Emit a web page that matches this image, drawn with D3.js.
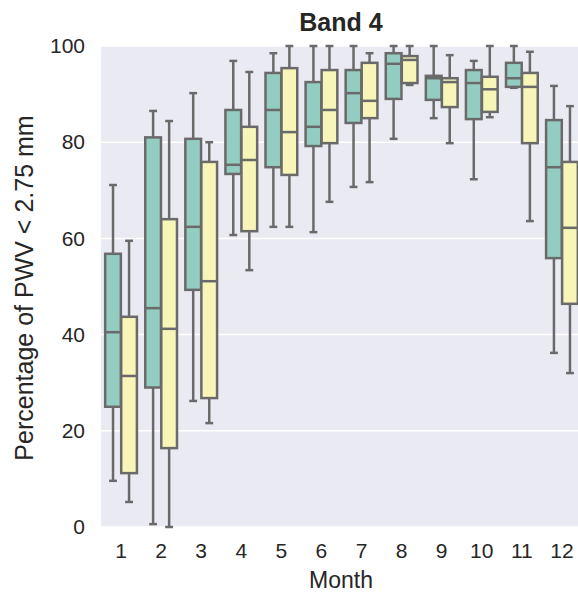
<!DOCTYPE html>
<html>
<head>
<meta charset="utf-8">
<script src="https://cdn.jsdelivr.net/npm/d3@7"></script>
<style>
  body { margin: 0; background: #fff; }
  svg { display: block; font-family: "Liberation Sans", Arial, sans-serif; }
</style>
</head>
<body>
<div id="chart"></div>
<script>
const months = ['1','2','3','4','5','6','7','8','9','10','11','12'];
const yTicks = [0, 20, 40, 60, 80, 100];

// first hue (teal)
const tealLow  = [9.6, 0.6, 26.2, 60.7, 62.4, 61.3, 70.7, 80.7, 85.0, 72.3, 91.3, 36.2];
const tealQ1   = [25.0, 29.0, 49.3, 73.4, 74.8, 79.2, 84.0, 89.0, 88.8, 84.8, 91.5, 55.9];
const tealMed  = [40.5, 45.5, 62.4, 75.3, 86.7, 83.2, 90.2, 96.3, 93.3, 92.3, 93.3, 74.8];
const tealQ3   = [56.8, 81.0, 80.7, 86.7, 94.4, 92.5, 95.0, 98.5, 93.8, 95.0, 96.5, 84.6];
const tealHigh = [71.1, 86.5, 90.2, 96.9, 98.5, 100, 100, 100, 100, 96.9, 100, 91.7];

// second hue (yellow)
const yellowLow  = [5.2, 0.0, 21.6, 53.4, 62.4, 67.6, 71.7, 91.9, 79.8, 85.2, 63.6, 32.0];
const yellowQ1   = [11.2, 16.4, 26.8, 61.5, 73.2, 79.8, 85.0, 92.3, 87.3, 86.3, 79.8, 46.4];
const yellowMed  = [31.4, 41.2, 51.1, 76.3, 82.1, 86.7, 88.6, 97.1, 92.5, 91.0, 91.5, 62.2];
const yellowQ3   = [43.7, 64.0, 75.9, 83.2, 95.4, 95.0, 96.5, 97.9, 93.3, 93.6, 94.4, 75.9];
const yellowHigh = [59.5, 84.4, 80.0, 94.6, 100, 100, 98.5, 100, 98.1, 100, 98.8, 87.5];

const hues = ['teal', 'yellow'];
const hueColor = { teal: '#93cdc1', yellow: '#f7f5b8' };
const edge = '#6a6a6a';
const textColor = '#262626';

function buildRows(low, q1, med, q3, high, hue) {
  return months.map((m, i) => ({ month: m, hue, low: low[i], q1: q1[i], med: med[i], q3: q3[i], high: high[i] }));
}
const rows = buildRows(tealLow, tealQ1, tealMed, tealQ3, tealHigh, 'teal')
  .concat(buildRows(yellowLow, yellowQ1, yellowMed, yellowQ3, yellowHigh, 'yellow'));

const W = 578, H = 593;
const margin = { left: 101, top: 46, right: -4, bottom: 66 };
const pw = W - margin.left - margin.right;
const ph = H - margin.top - margin.bottom;

const svg = d3.select('#chart').append('svg')
  .attr('width', W)
  .attr('height', H);

const g = svg.append('g').attr('transform', `translate(${margin.left},${margin.top})`);

const x = d3.scaleBand().domain(months).range([0, pw]).padding(0);
const xh = d3.scaleBand().domain(hues).range([0, x.bandwidth() * 0.8]).padding(0);
const y = d3.scaleLinear().domain([0, 100]).range([ph, 0]);

g.append('rect')
  .attr('width', pw)
  .attr('height', ph)
  .attr('fill', '#eaeaf2');

g.append('g')
  .selectAll('line')
  .data(yTicks)
  .enter().append('line')
  .attr('x1', 0).attr('x2', pw)
  .attr('y1', d => y(d)).attr('y2', d => y(d))
  .attr('stroke', '#fff')
  .attr('stroke-width', 1.5);

const yAxis = g.append('g')
  .call(d3.axisLeft(y).tickValues(yTicks).tickSize(0).tickPadding(16));
const xAxis = g.append('g')
  .attr('transform', `translate(0,${ph})`)
  .call(d3.axisBottom(x).tickSize(0).tickPadding(16));
[yAxis, xAxis].forEach(a => {
  a.select('.domain').remove();
  a.selectAll('text').attr('font-size', 21).attr('fill', textColor)
    .attr('font-family', '"Liberation Sans", Arial, sans-serif');
});

const boxW = xh.bandwidth() * 0.98;
const capW = boxW * 0.5;

const boxes = g.append('g').selectAll('g.box')
  .data(rows)
  .enter().append('g')
  .attr('class', 'box')
  .attr('transform', d => {
    const cx = x(d.month) + x.bandwidth() * 0.1 + xh(d.hue) + xh.bandwidth() / 2;
    return `translate(${cx},0)`;
  });

// whiskers
boxes.append('line')
  .attr('x1', 0).attr('x2', 0)
  .attr('y1', d => y(d.high)).attr('y2', d => y(d.q3))
  .attr('stroke', edge).attr('stroke-width', 2.5);
boxes.append('line')
  .attr('x1', 0).attr('x2', 0)
  .attr('y1', d => y(d.q1)).attr('y2', d => y(d.low))
  .attr('stroke', edge).attr('stroke-width', 2.5);
// caps
boxes.append('line')
  .attr('x1', -capW / 2).attr('x2', capW / 2)
  .attr('y1', d => y(d.high)).attr('y2', d => y(d.high))
  .attr('stroke', edge).attr('stroke-width', 2.5);
boxes.append('line')
  .attr('x1', -capW / 2).attr('x2', capW / 2)
  .attr('y1', d => y(d.low)).attr('y2', d => y(d.low))
  .attr('stroke', edge).attr('stroke-width', 2.5);
// box
boxes.append('rect')
  .attr('x', -boxW / 2)
  .attr('width', boxW)
  .attr('y', d => y(d.q3))
  .attr('height', d => y(d.q1) - y(d.q3))
  .attr('fill', d => hueColor[d.hue])
  .attr('stroke', edge).attr('stroke-width', 2.5);
// median
boxes.append('line')
  .attr('x1', -boxW / 2).attr('x2', boxW / 2)
  .attr('y1', d => y(d.med)).attr('y2', d => y(d.med))
  .attr('stroke', edge).attr('stroke-width', 2.5);

// title and axis labels
svg.append('text')
  .attr('x', margin.left + 240)
  .attr('y', 31)
  .attr('text-anchor', 'middle')
  .attr('font-size', 25)
  .attr('font-weight', 'bold')
  .attr('fill', textColor)
  .text('Band 4');

svg.append('text')
  .attr('x', margin.left + 240)
  .attr('y', 588)
  .attr('text-anchor', 'middle')
  .attr('font-size', 23)
  .attr('fill', textColor)
  .text('Month');

svg.append('text')
  .attr('transform', `translate(33,288) rotate(-90)`)
  .attr('text-anchor', 'middle')
  .attr('font-size', 25)
  .attr('fill', textColor)
  .text('Percentage of PWV < 2.75 mm');
</script>
</body>
</html>
